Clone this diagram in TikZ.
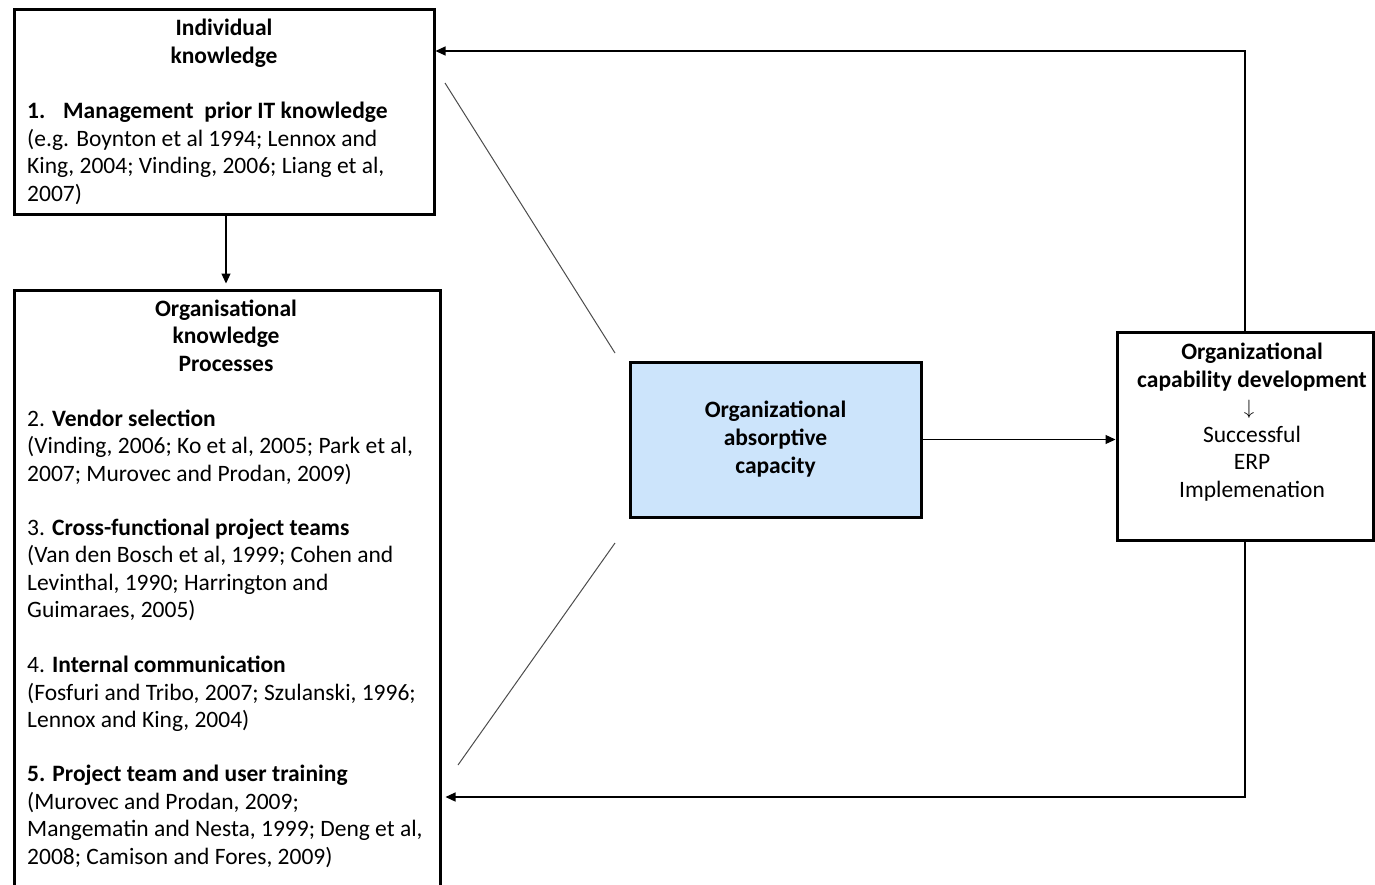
\documentclass[tikz,border=0pt]{standalone}
\usepackage{fontspec}
\setmainfont{Carlito}
\usetikzlibrary{arrows.meta}
\definecolor{absorbblue}{RGB}{204,228,251}
\begin{document}
\begin{tikzpicture}[x=1pt,y=-1pt,
    box/.style={draw,line width=3pt,inner sep=0pt},
    txt/.style={inner sep=0pt,font=\fontsize{23.5}{27.4}\selectfont},
    head/.style={txt,anchor=base,align=center,font=\fontsize{23.5}{27.4}\selectfont\bfseries},
    arr/.style={-{Triangle[length=10pt,width=9pt]},line width=1.2pt},
    diag/.style={line width=1pt,draw=black!70}]
  \useasboundingbox (0,0) rectangle (1375,884);
  \clip (0,0) rectangle (1375,884);
  \node[box,minimum width=420pt,minimum height=205.5pt] (indiv) at (224,112) {};
  \node[box,minimum width=426pt,minimum height=620pt] (orgproc) at (227,600) {};
  \node[box,fill=absorbblue,minimum width=291pt,minimum height=155pt,align=center,
    font=\fontsize{23.5}{28}\selectfont\bfseries] (absorb) at (775.5,439.5)
    {Organizational\\absorptive\\capacity};
  \node[box,minimum width=256pt,minimum height=208pt] (capab) at (1245,436) {};
  \node[head] (indivhead) at (224,63) {Individual\\knowledge};
  \node[txt,anchor=base west,align=left] (p1) at (27,201)
    {\textbf{\makebox[36pt][l]{1.}Management\ \ prior IT knowledge}\\
     (e.g. Boynton et al 1994; Lennox and\\
     King, 2004; Vinding, 2006; Liang et al,\\
     2007)};
  \node[head] (orghead) at (226,371) {Organisational\\knowledge\\Processes};
  \node[txt,anchor=base west,align=left] (p2) at (27,481)
    {2. \textbf{Vendor selection}\\
     (Vinding, 2006; Ko et al, 2005; Park et al,\\
     2007; Murovec and Prodan, 2009)};
  \node[txt,anchor=base west,align=left] (p3) at (27,617.5)
    {3. \textbf{Cross-functional project teams}\\
     (Van den Bosch et al, 1999; Cohen and\\
     Levinthal, 1990; Harrington and\\
     Guimaraes, 2005)};
  \node[txt,anchor=base west,align=left] (p4) at (27,727.5)
    {4. \textbf{Internal communication}\\
     (Fosfuri and Tribo, 2007; Szulanski, 1996;\\
     Lennox and King, 2004)};
  \node[txt,anchor=base west,align=left] (p5) at (27,864)
    {\textbf{5. Project team and user training}\\
     (Murovec and Prodan, 2009;\\
     Mangematin and Nesta, 1999; Deng et al,\\
     2008; Camison and Fores, 2009)};
  \node[head] (capabhead) at (1252,387) {Organizational\\capability development};
  \node[inner sep=0pt,font=\fontsize{21}{21}\selectfont] (capabarrow) at (1249,409) {$\downarrow$};
  \node[txt,anchor=base,align=center] (capabtext) at (1252,497)
    {Successful\\ERP\\Implemenation};
  \coordinate (topturn) at (1246,51);
  \coordinate (bottomturn) at (1246,797);
  \coordinate (d1a) at (445,83);
  \coordinate (d1b) at (615,353);
  \coordinate (d2a) at (615,543);
  \coordinate (d2b) at (458,765);
  \draw[arr,shorten >=5pt] ([xshift=2pt]indiv.south) -- ([xshift=2pt]indiv.south |- orgproc.north);
  \draw[arr] (absorb.east) -- (absorb.east -| capab.west);
  \draw[arr] (capab.north) |- (indiv.east |- topturn);
  \draw[arr,shorten >=4pt] (capab.south) |- (orgproc.east |- bottomturn);
  \draw[diag] (d1a) -- (d1b);
  \draw[diag] (d2a) -- (d2b);
\end{tikzpicture}
\end{document}
